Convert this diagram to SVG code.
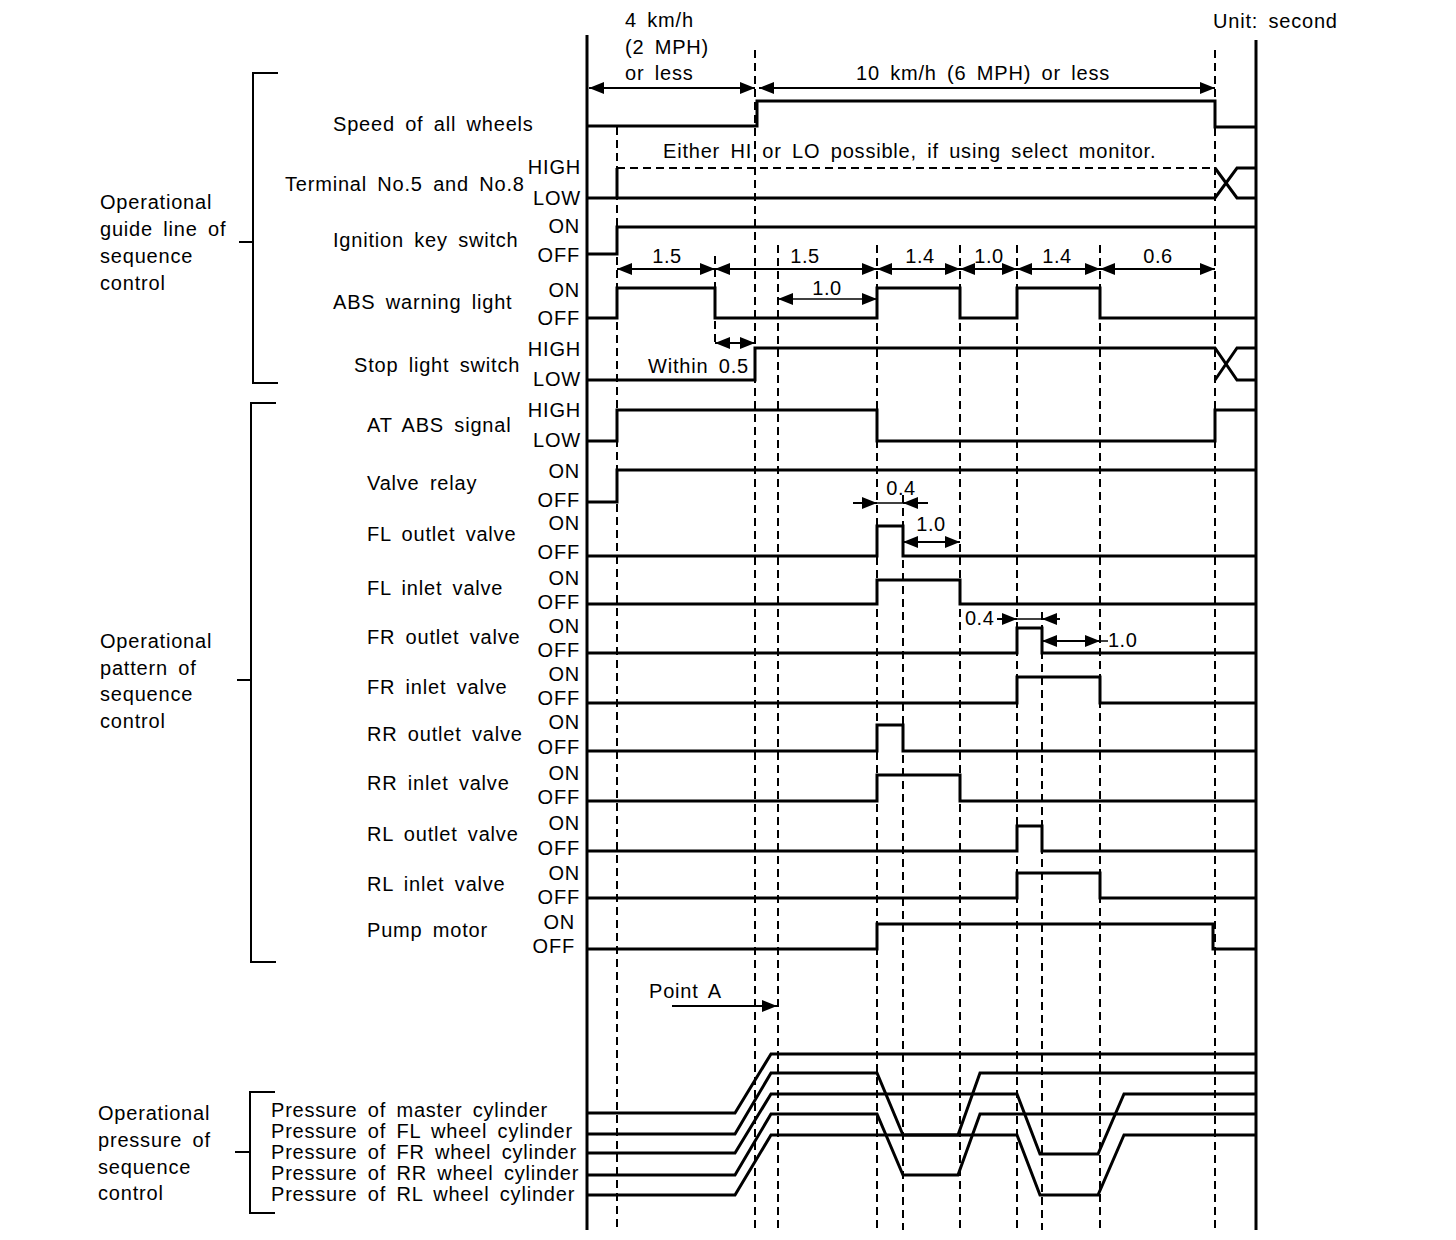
<svg xmlns="http://www.w3.org/2000/svg" width="1456" height="1240" viewBox="0 0 1456 1240">
<style>
text{font-family:"Liberation Sans",Arial,sans-serif;font-size:20px;fill:#000;letter-spacing:0.8px;word-spacing:4px}
.st{text-anchor:end}
.num{letter-spacing:0.5px}
.sig{fill:none;stroke:#000;stroke-width:3;stroke-linejoin:miter}
.ax{fill:none;stroke:#000;stroke-width:3}
.br{fill:none;stroke:#000;stroke-width:2}
.dash{fill:none;stroke:#000;stroke-width:2;stroke-dasharray:8 5}
.dim{fill:none;stroke:#000;stroke-width:2;marker-start:url(#ah);marker-end:url(#ah)}
.dim1{fill:none;stroke:#000;stroke-width:2;marker-end:url(#ah)}
.thin{fill:none;stroke:#000;stroke-width:1.5}
</style>
<defs>
<marker id="ah" viewBox="0 0 15 12" refX="15" refY="6" markerWidth="15" markerHeight="12" markerUnits="userSpaceOnUse" orient="auto-start-reverse"><path d="M0,0 L15,6 L0,12 z" fill="#000"/></marker>
</defs>
<rect width="1456" height="1240" fill="#fff"/>

<g id="axes">
<path class="ax" d="M587,35 V1230"/>
<path class="ax" d="M1256,40 V1230"/>
</g>

<g id="connectors">
<g id="guides">
<path class="dash" d="M617,127 V1230"/>
<path class="dash" d="M715,256 V345"/>
<path class="dash" d="M755,50 V1230"/>
<path class="dash" d="M778,245 V1230"/>
<path class="dash" d="M877,245 V1230"/>
<path class="dash" d="M903,495 V1230"/>
<path class="dash" d="M960,245 V1230"/>
<path class="dash" d="M1017,245 V1230"/>
<path class="dash" d="M1042,612 V1230"/>
<path class="dash" d="M1100,245 V1230"/>
<path class="dash" d="M1215,50 V1230"/>
</g>
<g id="dimensions">
<path class="dim" d="M589,88 H755"/>
<path class="dim" d="M759,88 H1215"/>
<path class="dim" d="M617,269 H715"/>
<path class="dim" d="M715,269 H877"/>
<path class="dim" d="M877,269 H960"/>
<path class="dim" d="M960,269 H1017"/>
<path class="dim" d="M1017,269 H1100"/>
<path class="dim" d="M1100,269 H1215"/>
<path class="dim" d="M778,299 H877" style="stroke-width:1.5"/>
<path class="dim" d="M715,343 H755"/>
<path class="thin" d="M853,503 H928"/>
<path class="dim1" d="M853,503 H877"/>
<path class="dim1" d="M928,503 H903"/>
<path class="dim" d="M903,542 H960"/>
<path class="thin" d="M997,619 H1060"/>
<path class="dim1" d="M997,619 H1017"/>
<path class="dim1" d="M1060,619 H1042"/>
<path class="dim" d="M1042,641 H1100"/>
<path class="thin" d="M1100,641 H1108"/>
<path class="dim1" d="M672,1006 H777"/>
</g>
</g>

<g id="header">
<text x="625" y="27">4 km/h</text>
<text x="625" y="54">(2 MPH)</text>
<text x="625" y="80">or less</text>
<text x="983" y="80" text-anchor="middle">10 km/h (6 MPH) or less</text>
<text x="1213" y="28">Unit: second</text>
</g>

<g id="group-guide">
<path class="br" d="M278,73 H253 V383 H278 M239,242 H253"/>
<text x="100" y="209">Operational</text>
<text x="100" y="236">guide line of</text>
<text x="100" y="263">sequence</text>
<text x="100" y="290">control</text>
</g>

<g id="row-speed">
<text x="333" y="131">Speed of all wheels</text>
<path class="sig" d="M587,126 H757 V101 H1215 V127 H1256"/>
</g>

<g id="row-terminal">
<text x="285" y="191">Terminal No.5 and No.8</text>
<text class="st" x="581" y="174">HIGH</text>
<text class="st" x="581" y="205">LOW</text>
<text x="663" y="158">Either HI or LO possible, if using select monitor.</text>
<path class="dash" d="M617,168 H1215"/>
<path class="sig" d="M587,198 H1215 L1237,168 H1256 M617,198 V168 M1215,168 L1237,198 H1256"/>
</g>

<g id="row-ignition">
<text x="333" y="247">Ignition key switch</text>
<text class="st" x="580" y="233">ON</text>
<text class="st" x="580" y="262">OFF</text>
<path class="sig" d="M587,254 H617 V227 H1256"/>
<text class="num" x="667" y="263" text-anchor="middle">1.5</text>
<text class="num" x="805" y="263" text-anchor="middle">1.5</text>
<text class="num" x="920" y="263" text-anchor="middle">1.4</text>
<text class="num" x="989" y="263" text-anchor="middle">1.0</text>
<text class="num" x="1057" y="263" text-anchor="middle">1.4</text>
<text class="num" x="1158" y="263" text-anchor="middle">0.6</text>
</g>

<g id="row-abs-warning">
<text x="333" y="309">ABS warning light</text>
<text class="st" x="580" y="297">ON</text>
<text class="st" x="580" y="325">OFF</text>
<text class="num" x="827" y="295" text-anchor="middle">1.0</text>
<path class="sig" d="M587,318 H617 V288 H715 V318 H877 V288 H960 V318 H1017 V288 H1100 V318 H1256"/>
</g>

<g id="row-stop">
<text x="354" y="372">Stop light switch</text>
<text class="st" x="581" y="356">HIGH</text>
<text class="st" x="581" y="386">LOW</text>
<text x="648" y="373">Within 0.5</text>
<path class="sig" d="M587,380 H755 V348 H1215 L1237,380 H1256 M1215,380 L1237,348 H1256"/>
</g>

<g id="group-pattern">
<path class="br" d="M276,403 H251 V962 H276 M237,680 H251"/>
<text x="100" y="648">Operational</text>
<text x="100" y="675">pattern of</text>
<text x="100" y="701">sequence</text>
<text x="100" y="728">control</text>
</g>

<g id="row-at-abs">
<text x="367" y="432">AT ABS signal</text>
<text class="st" x="581" y="417">HIGH</text>
<text class="st" x="581" y="447">LOW</text>
<path class="sig" d="M587,441 H617 V410 H877 V441 H1215 V410 H1256"/>
</g>

<g id="row-valve-relay">
<text x="367" y="490">Valve relay</text>
<text class="st" x="580" y="478">ON</text>
<text class="st" x="580" y="507">OFF</text>
<path class="sig" d="M587,502 H617 V470 H1256"/>
</g>

<g id="row-fl-outlet">
<text x="367" y="541">FL outlet valve</text>
<text class="st" x="580" y="530">ON</text>
<text class="st" x="580" y="559">OFF</text>
<text class="num" x="901" y="495" text-anchor="middle">0.4</text>
<text class="num" x="931" y="531" text-anchor="middle">1.0</text>
<path class="sig" d="M587,556 H877 V526 H903 V556 H1256"/>
</g>

<g id="row-fl-inlet">
<text x="367" y="595">FL inlet valve</text>
<text class="st" x="580" y="585">ON</text>
<text class="st" x="580" y="609">OFF</text>
<path class="sig" d="M587,604 H877 V580 H960 V604 H1256"/>
</g>

<g id="row-fr-outlet">
<text x="367" y="644">FR outlet valve</text>
<text class="st" x="580" y="633">ON</text>
<text class="st" x="580" y="657">OFF</text>
<text class="num" x="965" y="625">0.4</text>
<text class="num" x="1108" y="647">1.0</text>
<path class="sig" d="M587,653 H1017 V628 H1042 V653 H1256"/>
</g>

<g id="row-fr-inlet">
<text x="367" y="694">FR inlet valve</text>
<text class="st" x="580" y="681">ON</text>
<text class="st" x="580" y="705">OFF</text>
<path class="sig" d="M587,703 H1017 V677 H1100 V703 H1256"/>
</g>

<g id="row-rr-outlet">
<text x="367" y="741">RR outlet valve</text>
<text class="st" x="580" y="729">ON</text>
<text class="st" x="580" y="754">OFF</text>
<path class="sig" d="M587,751 H877 V725 H903 V751 H1256"/>
</g>

<g id="row-rr-inlet">
<text x="367" y="790">RR inlet valve</text>
<text class="st" x="580" y="780">ON</text>
<text class="st" x="580" y="804">OFF</text>
<path class="sig" d="M587,801 H877 V775 H960 V801 H1256"/>
</g>

<g id="row-rl-outlet">
<text x="367" y="841">RL outlet valve</text>
<text class="st" x="580" y="830">ON</text>
<text class="st" x="580" y="855">OFF</text>
<path class="sig" d="M587,851 H1017 V826 H1042 V851 H1256"/>
</g>

<g id="row-rl-inlet">
<text x="367" y="891">RL inlet valve</text>
<text class="st" x="580" y="880">ON</text>
<text class="st" x="580" y="904">OFF</text>
<path class="sig" d="M587,898 H1017 V873 H1100 V898 H1256"/>
</g>

<g id="row-pump">
<text x="367" y="937">Pump motor</text>
<text class="st" x="575" y="929">ON</text>
<text class="st" x="575" y="953">OFF</text>
<path class="sig" d="M587,949 H877 V924 H1213 V949 H1256"/>
</g>

<g id="point-a">
<text x="649" y="998">Point A</text>
</g>

<g id="group-pressure">
<path class="br" d="M275,1092 H250 V1213 H275 M235,1152 H250"/>
<text x="98" y="1120">Operational</text>
<text x="98" y="1147">pressure of</text>
<text x="98" y="1174">sequence</text>
<text x="98" y="1200">control</text>
</g>

<g id="pressure-master">
<text x="271" y="1117">Pressure of master cylinder</text>
<path class="sig" d="M587,1113 H735 L771,1054 H1256"/>
</g>
<g id="pressure-fl">
<text x="271" y="1138">Pressure of FL wheel cylinder</text>
<path class="sig" d="M587,1134 H735 L771,1073 H877 L903,1135 H958 L980,1073 H1256"/>
</g>
<g id="pressure-fr">
<text x="271" y="1159">Pressure of FR wheel cylinder</text>
<path class="sig" d="M587,1153 H735 L771,1094 H1017 L1040,1154 H1098 L1124,1094 H1256"/>
</g>
<g id="pressure-rr">
<text x="271" y="1180">Pressure of RR wheel cylinder</text>
<path class="sig" d="M587,1175 H735 L771,1114 H877 L903,1175 H958 L980,1114 H1256"/>
</g>
<g id="pressure-rl">
<text x="271" y="1201">Pressure of RL wheel cylinder</text>
<path class="sig" d="M587,1195 H735 L771,1135 H1017 L1040,1195 H1098 L1124,1135 H1256"/>
</g>
</svg>
